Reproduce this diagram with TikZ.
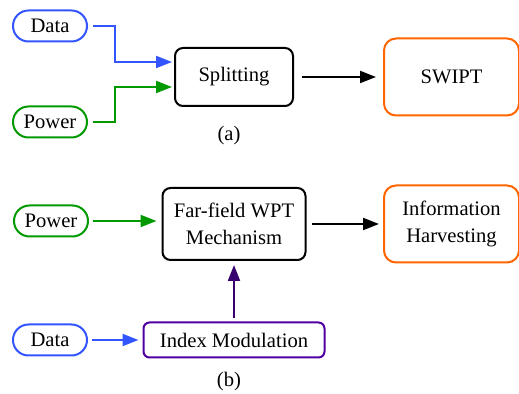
\documentclass[tikz,border=0pt]{standalone}
\usepackage{fontspec}
\setmainfont{Liberation Serif}
\usetikzlibrary{arrows.meta}

\definecolor{bluedata}{RGB}{51,85,255}
\definecolor{greenpow}{RGB}{0,153,0}
\definecolor{orangeout}{RGB}{255,102,0}
\definecolor{purplemod}{RGB}{80,0,160}
\definecolor{purplearr}{RGB}{55,0,110}

\begin{document}
\begin{tikzpicture}[x=0.5pt,y=-0.5pt,
    font=\rmfamily\fontsize{10.3}{13.5}\selectfont,
    pill/.style={draw,line width=1pt,rounded corners=7.75pt,minimum width=37pt,minimum height=15.5pt,inner sep=0pt},
    blockbox/.style={draw,line width=1pt,rounded corners=4pt,align=center,inner sep=0pt},
    outbox/.style={draw=orangeout,line width=1pt,rounded corners=6pt,align=center,inner sep=0pt,minimum width=67.5pt,minimum height=38.5pt},
    conn/.style={line width=1pt,-{Triangle[length=8pt,width=6pt]}}]
    \useasboundingbox (0,0) rectangle (519,394);
    % (a) splitting
    \node[pill,draw=bluedata] (dataA) at (50,26) {Data};
    \node[pill,draw=greenpow] (powerA) at (50,122) {Power};
    \node[blockbox,minimum width=59pt,minimum height=29pt] (split) at (234,77) {Splitting};
    \node[outbox] (swipt) at (451.5,77) {SWIPT};
    \node (capA) at (229,136) {(a)};
    \draw[conn,bluedata,shorten <=2.5pt,shorten >=1pt] (dataA.east) -- ++(27,0) |- ([yshift=7.5pt]split.west);
    \draw[conn,greenpow,shorten <=2.5pt,shorten >=1pt] (powerA.east) -- ++(27,0) |- ([yshift=-5pt]split.west);
    \draw[conn,shorten <=4pt,shorten >=3.5pt] (split.east) -- (swipt.west);
    % (b) index modulation
    \node[pill,draw=greenpow] (powerB) at (51,221) {Power};
    \node[blockbox,minimum width=71.5pt,minimum height=36pt] (far) at (234,224) {Far-field WPT\\Mechanism};
    \node[outbox] (info) at (451.5,224) {Information\\Harvesting};
    \node[pill,draw=bluedata] (dataB) at (50,340) {Data};
    \node[blockbox,draw=purplemod,rounded corners=3pt,minimum width=90.5pt,minimum height=17.5pt] (index) at (234,340) {Index Modulation};
    \node (capB) at (229,382) {(b)};
    \draw[conn,greenpow,shorten <=2pt,shorten >=2.5pt] (powerB.east) -- (powerB.east -| far.west);
    \draw[conn,shorten <=2.5pt,shorten >=2pt] (far.east) -- (info.west);
    \draw[conn,purplearr,shorten <=1.5pt,shorten >=2pt] (index.north) -- (far.south);
    \draw[conn,bluedata,shorten <=2pt,shorten >=2pt] (dataB.east) -- (index.west);
\end{tikzpicture}
\end{document}
